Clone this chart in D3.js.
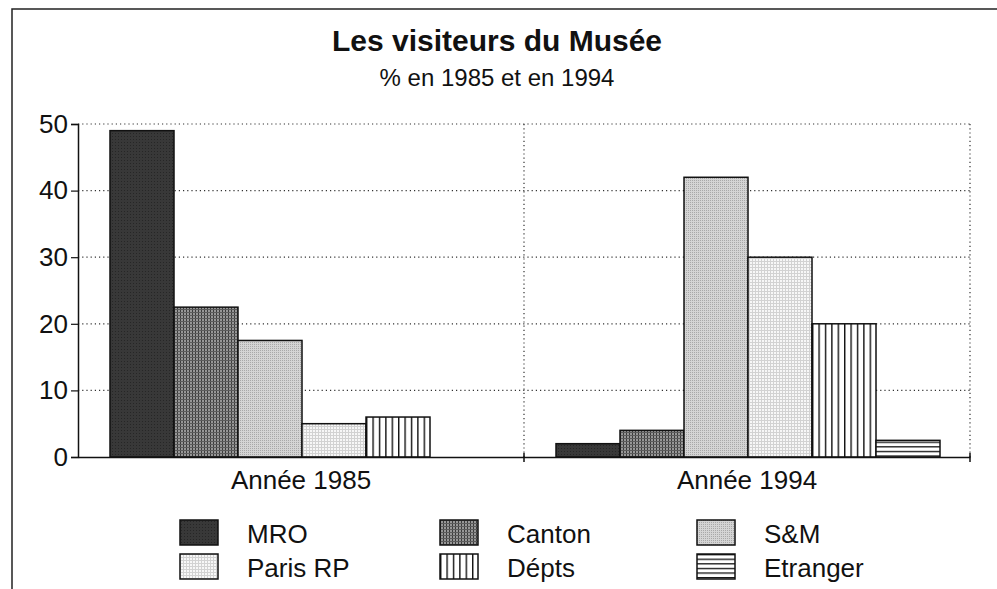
<!DOCTYPE html>
<html>
<head>
<meta charset="utf-8">
<script src="https://d3js.org/d3.v7.min.js"></script>
<style>
  body { margin: 0; background: #fff; }
  svg text { font-family: "Liberation Sans", Arial, sans-serif; fill: #111; }
</style>
</head>
<body>
<svg id="main_canvas" width="997" height="589"></svg>
<script>
    // values
    const categories = ["Année 1985", "Année 1994"];
    const series = ["MRO", "Canton", "S&M", "Paris RP", "Dépts", "Etranger"];
    const values1985 = [49, 22.5, 17.5, 5, 6, 0];
    const values1994 = [2, 4, 42, 30, 20, 2.5];
    const yTicks = [0, 10, 20, 30, 40, 50];

    const W = 997, H = 589;
    const margins = { left: 78, right: 27, top: 124, bottom: 132 };

    const svg = d3.select("#main_canvas");

    // hatch / stipple patterns like the old print
    const defs = svg.append("defs");
    const pat = (id, w, h, draw) => {
        const p = defs.append("pattern")
            .attr("id", id)
            .attr("patternUnits", "userSpaceOnUse")
            .attr("width", w).attr("height", h);
        draw(p);
    };
    pat("p-mro", 3, 3, p => {
        p.append("rect").attr("width", 3).attr("height", 3).attr("fill", "#383838");
        p.append("rect").attr("x", 1).attr("y", 1).attr("width", 1).attr("height", 1).attr("fill", "#262626");
    });
    pat("p-canton", 3, 3, p => {
        p.append("rect").attr("width", 3).attr("height", 3).attr("fill", "#979797");
        p.append("rect").attr("width", 1).attr("height", 3).attr("fill", "#3c3c3c");
        p.append("rect").attr("width", 3).attr("height", 1).attr("fill", "#5c5c5c");
    });
    pat("p-sm", 2, 2, p => {
        p.append("rect").attr("width", 2).attr("height", 2).attr("fill", "#d4d4d4");
        p.append("rect").attr("width", 1).attr("height", 1).attr("fill", "#a8a8a8");
    });
    pat("p-paris", 3, 3, p => {
        p.append("rect").attr("width", 3).attr("height", 3).attr("fill", "#f7f7f7");
        p.append("rect").attr("width", 1).attr("height", 3).attr("fill", "#d2d2d2");
        p.append("rect").attr("width", 3).attr("height", 1).attr("fill", "#d2d2d2");
    });
    pat("p-depts", 6.4, 6, p => {
        p.append("rect").attr("width", 6.4).attr("height", 6).attr("fill", "#fff");
        p.append("rect").attr("x", 0).attr("width", 1.4).attr("height", 6).attr("fill", "#111");
    });
    pat("p-etranger", 6, 4.6, p => {
        p.append("rect").attr("width", 6).attr("height", 4.6).attr("fill", "#fff");
        p.append("rect").attr("y", 0).attr("width", 6).attr("height", 1.3).attr("fill", "#111");
    });
    const fills = ["url(#p-mro)", "url(#p-canton)", "url(#p-sm)", "url(#p-paris)", "url(#p-depts)", "url(#p-etranger)"];

    // frame of the scanned page
    svg.append("path")
        .attr("d", `M12,${H} V9 H${W}`)
        .attr("fill", "none")
        .attr("stroke", "#222")
        .attr("stroke-width", 1.5);

    // titles
    svg.append("text")
        .attr("x", 497).attr("y", 51)
        .attr("text-anchor", "middle")
        .attr("font-weight", "bold")
        .attr("font-size", 30)
        .text("Les visiteurs du Musée");
    svg.append("text")
        .attr("x", 497).attr("y", 86)
        .attr("text-anchor", "middle")
        .attr("font-size", 24)
        .text("% en 1985 et en 1994");

    const x0 = d3.scaleBand()
        .domain(categories)
        .range([margins.left, W - margins.right]);

    const x1 = d3.scaleBand()
        .domain(series)
        .range([32, 416]);

    const y = d3.scaleLinear()
        .domain([0, 50])
        .range([H - margins.bottom, margins.top]);

    // dotted grid
    const grid = svg.append("g")
        .attr("stroke", "#333")
        .attr("stroke-width", 1.2)
        .attr("stroke-dasharray", "1.2,3");
    grid.selectAll("line.h")
        .data(yTicks.slice(1))
        .join("line")
        .attr("class", "h")
        .attr("x1", margins.left).attr("x2", W - margins.right)
        .attr("y1", d => y(d)).attr("y2", d => y(d));
    grid.selectAll("line.v")
        .data(categories)
        .join("line")
        .attr("class", "v")
        .attr("x1", d => x0(d) + x0.bandwidth()).attr("x2", d => x0(d) + x0.bandwidth())
        .attr("y1", y(50)).attr("y2", y(0));

    // bars
    const table = categories.map((c, i) => ({
        cat: c,
        vals: series.map((s, j) => ({ key: s, idx: j, value: (i === 0 ? values1985 : values1994)[j] }))
    }));

    svg.append("g")
        .selectAll("g")
        .data(table)
        .join("g")
        .attr("transform", d => `translate(${x0(d.cat)},0)`)
        .selectAll("rect")
        .data(d => d.vals.filter(v => v.value > 0))
        .join("rect")
        .attr("x", d => x1(d.key))
        .attr("y", d => y(d.value))
        .attr("width", x1.bandwidth())
        .attr("height", d => y(0) - y(d.value))
        .attr("fill", d => fills[d.idx])
        .attr("stroke", "#111")
        .attr("stroke-width", 1.5);

    // y axis
    svg.append("g")
        .attr("transform", `translate(${margins.left},0)`)
        .call(d3.axisLeft(y).tickValues(yTicks).tickSize(7).tickPadding(3))
        .call(g => g.select(".domain").attr("stroke", "#111").attr("stroke-width", 1.5))
        .call(g => g.selectAll(".tick line").attr("stroke", "#111").attr("stroke-width", 1.2))
        .call(g => g.selectAll(".tick text")
            .attr("font-size", 26)
            .attr("font-family", "Liberation Sans, Arial, sans-serif")
            .attr("fill", "#111"));

    // x axis
    svg.append("g")
        .attr("transform", `translate(0,${y(0)})`)
        .call(d3.axisBottom(x0).tickSize(0).tickPadding(14).tickSizeOuter(0))
        .call(g => g.select(".domain").attr("stroke", "#111").attr("stroke-width", 1.5))
        .call(g => g.selectAll(".tick text")
            .attr("font-size", 26)
            .attr("font-family", "Liberation Sans, Arial, sans-serif")
            .attr("fill", "#111"))
        .call(g => g.selectAll("line.sep")
            .data(categories)
            .join("line")
            .attr("class", "sep")
            .attr("x1", d => x0(d) + x0.bandwidth()).attr("x2", d => x0(d) + x0.bandwidth())
            .attr("y1", -4).attr("y2", 5)
            .attr("stroke", "#111").attr("stroke-width", 1.5));

    // legend, 3 columns x 2 rows
    const legendCols = [180, 440, 697];
    const legendRows = [520, 554];
    const legend = svg.append("g").attr("class", "legend")
        .selectAll("g")
        .data(series)
        .join("g")
        .attr("transform", (d, i) => `translate(${legendCols[i % 3]},${legendRows[Math.floor(i / 3)]})`);
    legend.append("rect")
        .attr("width", 38).attr("height", 25)
        .attr("fill", (d, i) => fills[i])
        .attr("stroke", "#111")
        .attr("stroke-width", 1.5);
    legend.append("text")
        .attr("x", 67).attr("y", 23)
        .attr("font-size", 26)
        .text(d => d);
</script>
</body>
</html>
